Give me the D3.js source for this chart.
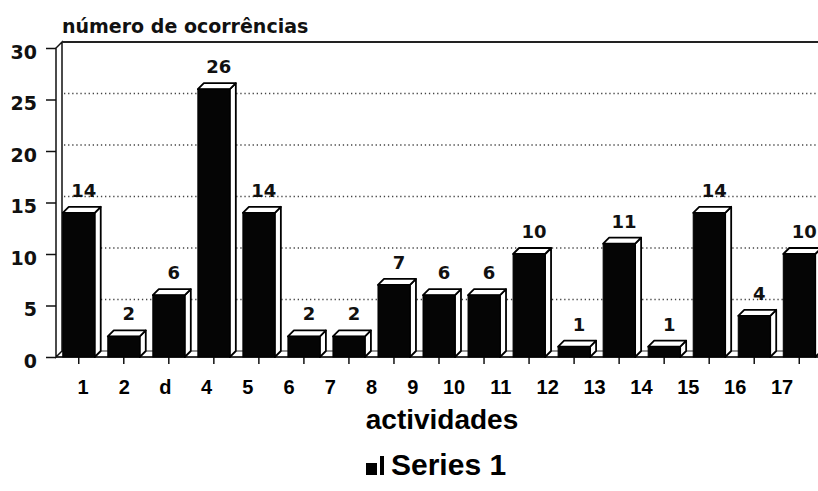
<!DOCTYPE html>
<html>
<head>
<meta charset="utf-8">
<script src="https://cdn.jsdelivr.net/npm/d3@7"></script>
<style>
  body { margin: 0; background: #fff; }
  .num { font-family: "DejaVu Sans", sans-serif; font-weight: bold; fill: #111; }
  .lbl { font-family: "Liberation Sans", Arial, sans-serif; font-weight: bold; fill: #000; }
</style>
</head>
<body>
<div id="chart"></div>
<script>
// data
var categories = ["1", "2", "d", "4", "5", "6", "7", "8", "9", "10", "11", "12", "13", "14", "15", "16", "17"];
var values = [14, 2, 6, 26, 14, 2, 2, 7, 6, 6, 10, 1, 11, 1, 14, 4, 10];
var yTicks = [0, 5, 10, 15, 20, 25, 30];
var gridValues = [5, 10, 15, 20, 25];
var yTitle = "número de ocorrências";
var xTitle = "actividades";
var seriesName = "Series 1";

var width = 818, height = 491;
var depth = {dx: 6, dy: -6};   // 3d offset of the back wall / bar tops

var svg = d3.select("#chart")
  .append("svg")
    .attr("width", width)
    .attr("height", height);

var yScale = d3.scaleLinear().domain([0, 30]).range([357, 48]);
var xScale = d3.scaleBand()
  .domain(categories)
  .range([56, 822])
  .paddingInner(0.29)
  .paddingOuter(0.15);
// the category labels were set by hand and drift left of the bars
var labelScale = d3.scaleLinear().domain([0, 9, 16]).range([83, 454, 782]);

var y0 = yScale(0), yTop = yScale(30);
var wallX = 56;

// floor
svg.append("path")
  .attr("d", "M" + wallX + "," + y0 + "L" + (wallX + depth.dx) + "," + (y0 + depth.dy) +
             "L" + width + "," + (y0 + depth.dy) + "L" + width + "," + y0 + "Z")
  .attr("fill", "#fff")
  .attr("stroke", "#333")
  .attr("stroke-width", 1);

// left wall
svg.append("path")
  .attr("d", "M" + wallX + "," + y0 + "L" + wallX + "," + yTop +
             "L" + (wallX + depth.dx) + "," + (yTop + depth.dy) +
             "L" + (wallX + depth.dx) + "," + (y0 + depth.dy) + "Z")
  .attr("fill", "#fff")
  .attr("stroke", "#111")
  .attr("stroke-width", 1.5);

// top edge of back wall
svg.append("line")
  .attr("x1", wallX + depth.dx).attr("x2", width)
  .attr("y1", yTop + depth.dy).attr("y2", yTop + depth.dy)
  .attr("stroke", "#222")
  .attr("stroke-width", 2);

// dotted gridlines on the back wall
svg.append("g")
  .selectAll("line")
  .data(gridValues)
  .enter().append("line")
    .attr("x1", wallX + depth.dx + 2).attr("x2", width)
    .attr("y1", function(d) { return yScale(d) + depth.dy; })
    .attr("y2", function(d) { return yScale(d) + depth.dy; })
    .attr("stroke", "#444")
    .attr("stroke-width", 1.3)
    .attr("stroke-dasharray", "1.3,2.8");

// front floor line
svg.append("line")
  .attr("x1", wallX).attr("x2", width)
  .attr("y1", y0).attr("y2", y0)
  .attr("stroke", "#111")
  .attr("stroke-width", 1.5);

// y axis
var yAxis = svg.append("g")
  .attr("transform", "translate(" + wallX + ",0)")
  .call(d3.axisLeft(yScale).tickValues(yTicks).tickSize(10).tickPadding(8));
yAxis.select(".domain").remove();
yAxis.selectAll(".tick line").attr("stroke", "#111").attr("stroke-width", 1.5);
yAxis.selectAll(".tick text")
  .attr("class", "num")
  .attr("font-size", 19)
  .attr("dy", "0.55em")
  .attr("x", -19);

// x ticks
var xAxis = svg.append("g")
  .attr("transform", "translate(0," + y0 + ")")
  .call(d3.axisBottom(xScale).tickSize(7).tickFormat(""));
xAxis.select(".domain").remove();
xAxis.selectAll(".tick line").attr("stroke", "#111").attr("stroke-width", 1.5);

// bars
var bw = xScale.bandwidth();
var bars = svg.append("g")
  .selectAll("g")
  .data(values)
  .enter().append("g");

// side face
bars.append("path")
  .attr("d", function(d, i) {
    var x1 = xScale(categories[i]) + bw, yv = yScale(d);
    return "M" + x1 + "," + yv + "L" + (x1 + depth.dx) + "," + (yv + depth.dy) +
           "L" + (x1 + depth.dx) + "," + (y0 + depth.dy) + "L" + x1 + "," + y0 + "Z";
  })
  .attr("fill", "#fff")
  .attr("stroke", "#000")
  .attr("stroke-width", 1.8)
  .attr("stroke-linejoin", "round");

// top face
bars.append("path")
  .attr("d", function(d, i) {
    var x0 = xScale(categories[i]), yv = yScale(d);
    return "M" + x0 + "," + yv + "L" + (x0 + depth.dx) + "," + (yv + depth.dy) +
           "L" + (x0 + bw + depth.dx) + "," + (yv + depth.dy) + "L" + (x0 + bw) + "," + yv + "Z";
  })
  .attr("fill", "#fff")
  .attr("stroke", "#000")
  .attr("stroke-width", 1.8)
  .attr("stroke-linejoin", "round");

// front face
bars.append("rect")
  .attr("x", function(d, i) { return xScale(categories[i]); })
  .attr("y", function(d) { return yScale(d); })
  .attr("width", bw)
  .attr("height", function(d) { return y0 - yScale(d); })
  .attr("fill", "#050505")
  .attr("stroke", "#000")
  .attr("stroke-width", 1);

// value labels
bars.append("text")
  .attr("class", "num")
  .attr("font-size", 18)
  .attr("text-anchor", "middle")
  .attr("x", function(d, i) { return xScale(categories[i]) + bw / 2 + 5; })
  .attr("y", function(d) { return yScale(d) + depth.dy - 10; })
  .text(function(d) { return d; });

// category labels
svg.append("g")
  .selectAll("text")
  .data(categories)
  .enter().append("text")
    .attr("class", "lbl")
    .attr("font-size", 20)
    .attr("text-anchor", "middle")
    .attr("x", function(d, i) { return labelScale(i); })
    .attr("y", 394)
    .text(function(d) { return d; });

// titles
svg.append("text")
  .attr("class", "num")
  .attr("font-size", 19)
  .attr("x", 62)
  .attr("y", 33)
  .text(yTitle);

svg.append("text")
  .attr("class", "lbl")
  .attr("font-size", 28)
  .attr("x", 442)
  .attr("y", 429)
  .attr("text-anchor", "middle")
  .text(xTitle);

// legend
var legend = svg.append("g");
legend.append("rect")
  .attr("x", 366).attr("y", 463).attr("width", 11).attr("height", 12)
  .attr("fill", "#000");
legend.append("rect")
  .attr("x", 380).attr("y", 456).attr("width", 4).attr("height", 19)
  .attr("fill", "#000");
legend.append("text")
  .attr("class", "lbl")
  .attr("font-size", 30)
  .attr("x", 391)
  .attr("y", 475)
  .text(seriesName);
</script>
</body>
</html>
